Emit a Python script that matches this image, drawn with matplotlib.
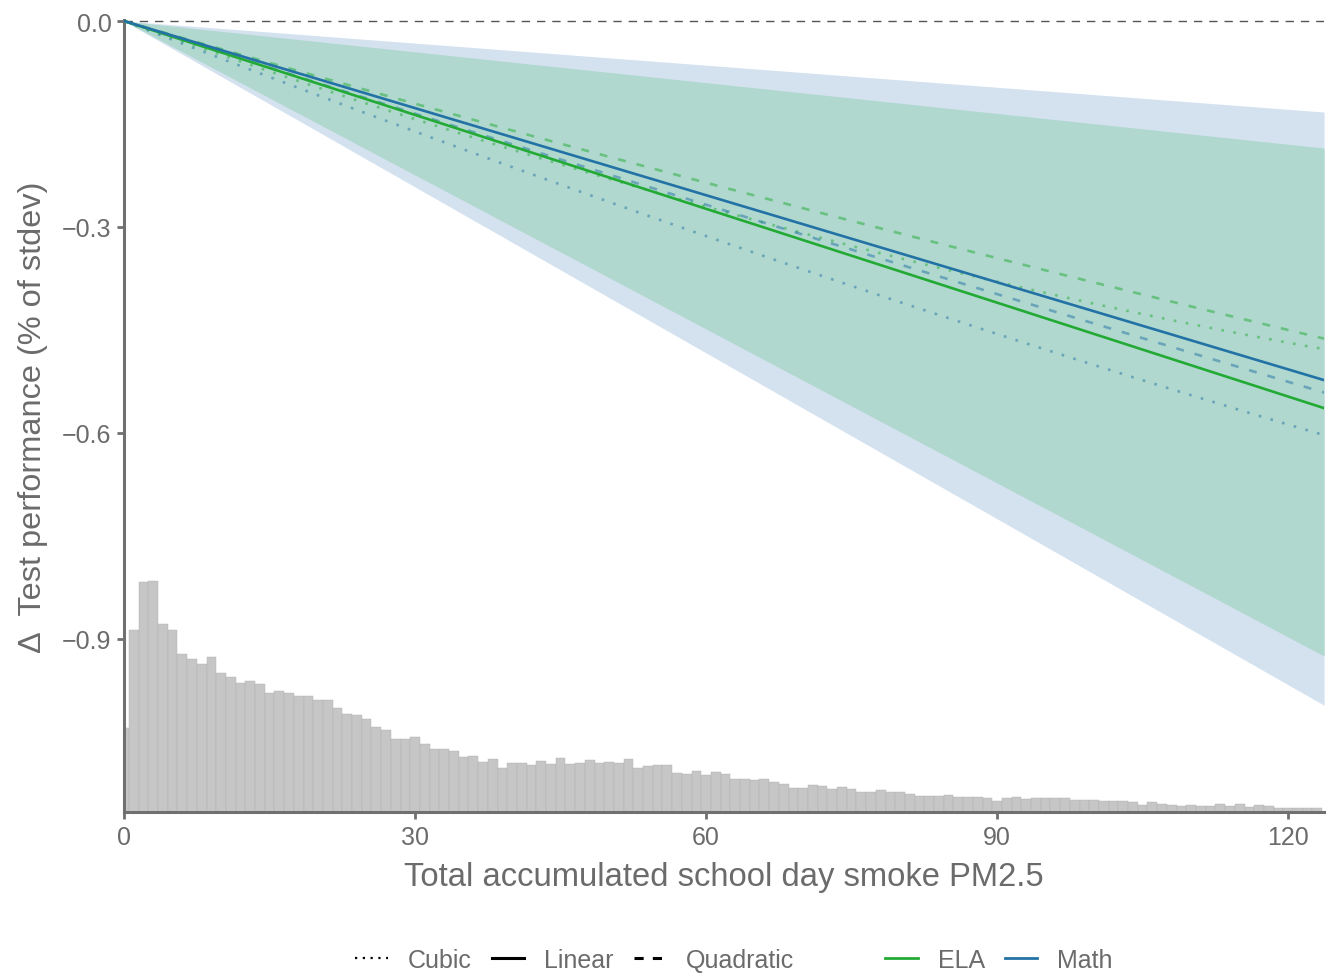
import numpy as np
import matplotlib.pyplot as plt
from matplotlib.lines import Line2D

plt.rcParams['font.family'] = ['Liberation Sans', 'DejaVu Sans']

# Effect of accumulated smoke PM2.5 on test scores, polynomial coefficients
# (x, x^2, x^3 terms; all curves go through the origin)
x_max = 123.7
ela_linear = [-0.00456]
math_linear = [-0.00423]
ela_quadratic = [-0.004102, 2.92e-6]
math_quadratic = [-0.004542, 1.34e-6]
ela_cubic = [-0.004996, 7.18e-6, 1.587e-8]
math_cubic = [-0.0055, 4.237e-6, 6.36e-9]

# confidence band of the linear slope (lower, upper)
ela_band = [-0.00748, -0.001496]
math_band = [-0.00806, -0.001072]

# distribution of total school-day smoke PM2.5, bins of width 1 centred on 0..123
hist_counts = [84, 181, 229, 230, 187, 181, 157, 152, 147, 154,
               138, 134, 128, 130, 127, 118, 120, 118, 116, 116,
               112, 112, 104, 98, 97, 93, 85, 82, 73, 73,
               75, 68, 63, 63, 61, 55, 56, 50, 53, 44,
               49, 49, 47, 51, 48, 54, 48, 49, 52, 49,
               50, 49, 53, 44, 46, 47, 47, 39, 38, 41,
               37, 40, 38, 33, 33, 32, 33, 30, 28, 24,
               24, 27, 26, 23, 25, 23, 20, 20, 22, 20,
               20, 18, 16, 16, 16, 17, 15, 15, 15, 14,
               11, 14, 15, 13, 14, 14, 14, 14, 12, 12,
               12, 11, 11, 11, 10, 7, 10, 8, 7, 6,
               7, 6, 6, 8, 6, 8, 5, 7, 6, 4,
               4, 4, 4, 4]

xticks = [0, 30, 60, 90, 120]
yticks = [0.0, -0.3, -0.6, -0.9]

ela_col = '#22aa35'
math_col = '#2372a6'
grey_txt = '#6b6b6b'
axis_col = '#707070'

y_min = -1.1526
hist_top = -0.816


def poly(coefs, x):
    return sum(c * x ** (i + 1) for i, c in enumerate(coefs))


fig = plt.figure(figsize=(13.31, 9.78), dpi=100)
ax = fig.add_axes([0.0932, 0.16871, 0.90158, 0.8098])

xs = np.linspace(0, x_max, 300)

# confidence ribbons
ax.fill_between(xs, math_band[0] * xs, math_band[1] * xs, color='#d4e2f0', lw=0, zorder=1)
ax.fill_between(xs, ela_band[0] * xs, ela_band[1] * xs, color='#b0d8ce', lw=0, zorder=2)

# zero reference
ax.axhline(0, color='#555555', lw=1.0, ls=(0, (6, 5)), zorder=3)

# histogram of exposure along the bottom
counts = np.array(hist_counts, dtype=float)
heights = counts / counts.max() * (hist_top - y_min)
centers = np.arange(len(counts))
ax.bar(centers, heights, width=1.0, bottom=y_min, color='#c6c6c6',
       edgecolor='#b0b0b0', linewidth=0.3, zorder=2)

# fitted curves
lw = 1.9
dot = (0, (1, 3.6))
dash = (0, (3, 4.2))
ax.plot(xs, poly(ela_cubic, xs), color=ela_col, lw=lw, ls=dot, alpha=0.5, zorder=4)
ax.plot(xs, poly(math_cubic, xs), color=math_col, lw=lw, ls=dot, alpha=0.5, zorder=4)
ax.plot(xs, poly(ela_quadratic, xs), color=ela_col, lw=lw, ls=dash, alpha=0.5, zorder=4)
ax.plot(xs, poly(math_quadratic, xs), color=math_col, lw=lw, ls=dash, alpha=0.5, zorder=4)
ax.plot(xs, poly(ela_linear, xs), color=ela_col, lw=lw, zorder=5)
ax.plot(xs, poly(math_linear, xs), color=math_col, lw=lw, zorder=5)

ax.set_xlim(0, x_max)
ax.set_ylim(y_min, 0.0015)
ax.set_xticks(xticks)
ax.set_xticklabels([str(t) for t in xticks])
ax.set_yticks(yticks)
ax.set_yticklabels(['0.0', '\u22120.3', '\u22120.6', '\u22120.9'])

for side in ['top', 'right']:
    ax.spines[side].set_visible(False)
for side in ['left', 'bottom']:
    ax.spines[side].set_color(axis_col)
    ax.spines[side].set_linewidth(2.2)
ax.tick_params(axis='both', colors=axis_col, length=5, width=2.0,
               labelsize=18, labelcolor=grey_txt, pad=4)

ax.set_xlabel('Total accumulated school day smoke PM2.5', fontsize=23.6,
              color=grey_txt, labelpad=9)
ax.set_ylabel('\u0394  Test performance (% of stdev)', fontsize=23.4,
              color=grey_txt, labelpad=10)

# legends: line type and subject
type_handles = [Line2D([], [], color='black', lw=1.6, ls=(0, (1, 2.5))),
                Line2D([], [], color='black', lw=2.2),
                Line2D([], [], color='black', lw=2.2, ls=(0, (3, 3)))]
leg1 = fig.legend(type_handles, ['Cubic', 'Linear', 'Quadratic'], ncol=3,
                  loc='center', bbox_to_anchor=(0.432, 0.0175), frameon=False,
                  fontsize=18, labelcolor=grey_txt, handlelength=1.3,
                  handletextpad=0.8, columnspacing=0.8)
subj_handles = [Line2D([], [], color=ela_col, lw=2.0),
                Line2D([], [], color=math_col, lw=2.0)]
leg2 = fig.legend(subj_handles, ['ELA', 'Math'], ncol=2, loc='center',
                  bbox_to_anchor=(0.7506, 0.0175), frameon=False, fontsize=18,
                  labelcolor=grey_txt, handlelength=1.3, handletextpad=0.8,
                  columnspacing=0.8)

fig.savefig('out.png', dpi=100)
